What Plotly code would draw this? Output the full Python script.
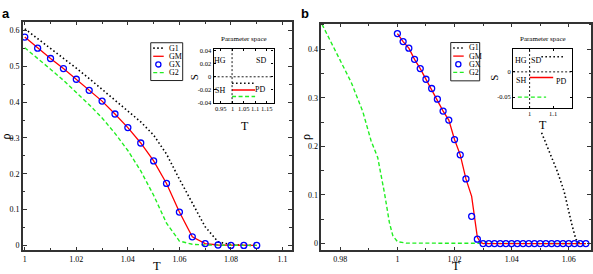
import plotly.graph_objects as go

W, H = 593, 274

# ---------------- Panel a data ----------------
T_a = [1.000, 1.005, 1.010, 1.015, 1.020, 1.025, 1.030, 1.035, 1.040, 1.045,
       1.050, 1.055, 1.060, 1.065, 1.070, 1.075, 1.080, 1.085, 1.090]
G1_a = [0.605, 0.578, 0.551, 0.523, 0.495, 0.466, 0.436, 0.406, 0.376, 0.345,
        0.308, 0.255, 0.185, 0.118, 0.052, 0.010, 0.002, 0.0, 0.0]
GM_a = [0.582, 0.551, 0.522, 0.494, 0.464, 0.433, 0.403, 0.367, 0.329, 0.286,
        0.236, 0.173, 0.093, 0.024, 0.005, 0.001, 0.0, 0.0, 0.0]
GX_a = [0.582, 0.551, 0.522, 0.494, 0.464, 0.433, 0.403, 0.367, 0.329, 0.286,
        0.236, 0.173, 0.093, 0.024, 0.005, 0.001, 0.0, 0.0, 0.0]
G2_a = [0.552, 0.523, 0.492, 0.461, 0.427, 0.393, 0.356, 0.313, 0.265, 0.208,
        0.140, 0.062, 0.012, 0.003, 0.001, 0.0, 0.0, 0.0, 0.0]

# ---------------- Panel b data ----------------
T_b_gx = [1.000, 1.002, 1.004, 1.006, 1.008, 1.010, 1.012, 1.014, 1.016, 1.018,
          1.020, 1.022, 1.024, 1.026, 1.028, 1.030, 1.032, 1.034, 1.036, 1.038,
          1.040, 1.042, 1.044, 1.046, 1.048, 1.050, 1.052, 1.054, 1.056, 1.058,
          1.060, 1.062, 1.064, 1.066]
GX_b = [0.432, 0.4155, 0.402, 0.379, 0.360, 0.338, 0.319, 0.297, 0.2725, 0.254,
        0.214, 0.1825, 0.133, 0.056, 0.009, 0.0, 0.0, 0.0, 0.0, 0.0,
        0.0, 0.0, 0.0, 0.0, 0.0, 0.0, 0.0, 0.0, 0.0, 0.0,
        0.0, 0.0, 0.0, 0.0]
T_b_gm = [1.000, 1.002, 1.004, 1.006, 1.008, 1.010, 1.012, 1.014, 1.016, 1.018,
          1.020, 1.022, 1.024, 1.026, 1.028, 1.029, 1.030, 1.066]
GM_b = [0.432, 0.4155, 0.402, 0.379, 0.360, 0.338, 0.319, 0.297, 0.2725, 0.254,
        0.214, 0.1825, 0.133, 0.097, 0.013, 0.003, 0.0, 0.0]
T_b_g1 = [1.0505, 1.0532, 1.0561, 1.0584, 1.0599, 1.0611, 1.0625, 1.0635, 1.0660]
G1_b = [0.228, 0.187, 0.147, 0.107, 0.066, 0.039, 0.009, 0.002, 0.0]
T_b_g2 = [0.9736, 0.9792, 0.9838, 0.9861, 0.9879, 0.9908, 0.9931, 0.9955,
          0.9972, 0.9984, 1.0000, 1.0030, 1.0660]
G2_b = [0.451, 0.385, 0.332, 0.298, 0.271, 0.211, 0.177, 0.103,
        0.043, 0.016, 0.004, 0.001, 0.0]

# ---------------- Inset (parameter space) data ----------------
ins_a_T = {"G1": [1.0, 1.1], "GM": [1.0, 1.1], "G2": [1.0, 1.1]}
ins_a_S = {"G1": [-0.01, -0.01], "GM": [-0.02, -0.02], "G2": [-0.03, -0.03]}
ins_b_T = {"G1": [1.05, 1.15], "GM": [1.0, 1.1], "G2": [0.95, 1.07]}
ins_b_S = {"G1": [0.03, 0.03], "GM": [-0.011, -0.011], "G2": [-0.05, -0.05]}

ins_a_xticks = [0.95, 1.0, 1.05, 1.1, 1.15]
ins_a_xtext = ["0.95", "1", "1.05", "1.1", "1.15"]
ins_a_yticks = [0.04, 0.02, 0.0, -0.02, -0.04]
ins_a_ytext = ["0.04", "0.02", "0", "-0.02", "-0.04"]
ins_b_xticks = [1.0, 1.1]
ins_b_xtext = ["1", "1.1"]
ins_b_yticks = [0.0, -0.05]
ins_b_ytext = ["0", "-0.05"]

series_names = ["G1", "GM", "GX", "G2"]

# ---------------- styles ----------------
BLACK = "black"
RED = "#ff0000"
BLUE = "#0000ff"
GREEN = "#22ee22"
DOT = "1.5px,2.5px"
DASH = "4px,2.5px"

styles = {
    "G1": dict(mode="lines", line=dict(color=BLACK, width=1.6, dash=DOT)),
    "GM": dict(mode="lines", line=dict(color=RED, width=1.3)),
    "GX": dict(mode="markers", marker=dict(symbol="circle-open", size=6, color=BLUE,
                                           line=dict(width=1.3, color=BLUE))),
    "G2": dict(mode="lines", line=dict(color=GREEN, width=1.4, dash=DASH)),
}


def px(x):
    return x / W


def py(y):
    return 1 - y / H


fig = go.Figure()

panel_a = {"G1": (T_a, G1_a), "GM": (T_a, GM_a), "G2": (T_a, G2_a), "GX": (T_a, GX_a)}
panel_b = {"G1": (T_b_g1, G1_b), "GM": (T_b_gm, GM_b), "G2": (T_b_g2, G2_b), "GX": (T_b_gx, GX_b)}

for name in ["G1", "GM", "G2", "GX"]:
    xs, ys = panel_a[name]
    fig.add_trace(go.Scatter(x=xs, y=ys, name=name, xaxis="x", yaxis="y",
                             showlegend=False, hoverinfo="skip", **styles[name]))
for name in ["G2", "G1", "GM", "GX"]:
    xs, ys = panel_b[name]
    fig.add_trace(go.Scatter(x=xs, y=ys, name=name, xaxis="x2", yaxis="y2",
                             showlegend=False, hoverinfo="skip", **styles[name]))

ins_styles = {
    "G1": dict(color=BLACK, width=1.5, dash=DOT),
    "GM": dict(color=RED, width=1.4),
    "G2": dict(color=GREEN, width=1.4, dash="4px,2.5px"),
}
for name in ["G1", "GM", "G2"]:
    fig.add_trace(go.Scatter(x=ins_a_T[name], y=ins_a_S[name], mode="lines",
                             line=ins_styles[name], xaxis="x3", yaxis="y3",
                             showlegend=False, hoverinfo="skip"))
    fig.add_trace(go.Scatter(x=ins_b_T[name], y=ins_b_S[name], mode="lines",
                             line=ins_styles[name], xaxis="x4", yaxis="y4",
                             showlegend=False, hoverinfo="skip"))

AXC = "#333333"
serif = "Liberation Serif"
common = dict(showline=True, linecolor=AXC, linewidth=1.5, mirror="allticks",
              ticks="inside", ticklen=4, tickwidth=1, tickcolor=AXC,
              showgrid=False, zeroline=False, tickangle=0,
              tickfont=dict(family=serif, size=8, color="black"))
minor_x = dict(dtick=0.01, ticks="inside", ticklen=2.5, tickwidth=1, tickcolor=AXC, showgrid=False)
minor_y = dict(dtick=0.05, ticks="inside", ticklen=2.5, tickwidth=1, tickcolor=AXC, showgrid=False)

inset_common = dict(showline=True, linecolor=BLACK, linewidth=1.2, mirror="allticks",
                    ticks="inside", ticklen=2, tickwidth=0.8, tickcolor=BLACK,
                    showgrid=False, zeroline=False, tickangle=0,
                    tickfont=dict(family=serif, size=6.5, color="black"))

fig.update_layout(
    width=W, height=H, autosize=False,
    margin=dict(l=0, r=0, t=0, b=0),
    paper_bgcolor="white", plot_bgcolor="white",
    showlegend=False,
    xaxis=dict(domain=[px(23), px(292)], range=[0.9993, 1.1035], dtick=0.02, tick0=1.0,
               anchor="y", minor=minor_x, **common),
    yaxis=dict(domain=[py(253), py(20)], range=[-0.014, 0.625], dtick=0.1, tick0=0,
               anchor="x", minor=minor_y, **common),
    xaxis2=dict(domain=[px(322), px(592)], range=[0.9734, 1.0678], dtick=0.02, tick0=1.0,
                anchor="y2", minor=minor_x, **common),
    yaxis2=dict(domain=[py(253), py(22)], range=[-0.014, 0.4525], dtick=0.1, tick0=0,
                anchor="x2", minor=minor_y, **common),
    xaxis3=dict(domain=[px(214), px(274)], range=[0.92, 1.18], tickvals=ins_a_xticks,
                showticklabels=False, anchor="y3", **inset_common),
    yaxis3=dict(domain=[py(103), py(48)], range=[-0.04, 0.042], tickvals=ins_a_yticks,
                ticktext=ins_a_ytext, anchor="x3", **inset_common),
    xaxis4=dict(domain=[px(514), px(573)], range=[0.93, 1.18], tickvals=ins_b_xticks,
                showticklabels=False, anchor="y4", **inset_common),
    yaxis4=dict(domain=[py(108), py(48)], range=[-0.0715, 0.045], tickvals=ins_b_yticks,
                ticktext=ins_b_ytext, anchor="x4", **inset_common),
)

shapes = []
# dashed guide lines in insets
for xa, ya in [("x3", "y3"), ("x4", "y4")]:
    shapes.append(dict(type="line", xref=xa, yref=ya + " domain", x0=1.0, x1=1.0, y0=0, y1=1,
                       line=dict(color=BLACK, width=0.9, dash="2px,2px")))
    shapes.append(dict(type="line", xref=xa + " domain", yref=ya, x0=0, x1=1, y0=0, y1=0,
                       line=dict(color=BLACK, width=0.9, dash="2px,2px")))

annotations = []


def add_text(text, x, y, size, family=serif, angle=0, bold=False, xanchor="center", color="black"):
    annotations.append(dict(text=("<b>%s</b>" % text) if bold else text,
                            x=px(x), y=py(y), xref="paper", yref="paper",
                            xanchor=xanchor, yanchor="middle", showarrow=False,
                            textangle=angle, font=dict(family=family, size=size, color=color)))


# inset x tick labels (placed as text so none is dropped for crowding)
for xa, vals, texts, ypix in [("x3", ins_a_xticks, ins_a_xtext, 108.5),
                              ("x4", ins_b_xticks, ins_b_xtext, 113.5)]:
    for v, t in zip(vals, texts):
        annotations.append(dict(text=t, x=v, y=py(ypix), xref=xa, yref="paper",
                                xanchor="center", yanchor="middle", showarrow=False,
                                font=dict(family=serif, size=6.5, color="black")))

# legends (drawn manually so the compact layout matches)
legend_boxes = [(151.0, 41.5, 183.0, 80.0), (451.5, 41.3, 480.5, 80.3)]
for (l, t, r, b) in legend_boxes:
    shapes.append(dict(type="rect", xref="paper", yref="paper", x0=px(l), x1=px(r),
                       y0=py(b), y1=py(t), line=dict(color="#222", width=1), fillcolor="white",
                       layer="above"))
    for i, name in enumerate(series_names):
        yy = t + 5.5 + i * 8.3
        if name == "GX":
            shapes.append(dict(type="circle", xref="paper", yref="paper",
                               x0=px(l + 5.0), x1=px(l + 10.2), y0=py(yy + 2.6), y1=py(yy - 2.6),
                               line=dict(color=BLUE, width=1.3), layer="above"))
        else:
            st = styles[name]["line"]
            shapes.append(dict(type="line", xref="paper", yref="paper",
                               x0=px(l + 2.5), x1=px(l + 13), y0=py(yy), y1=py(yy),
                               line=dict(color=st["color"], width=st["width"], dash=st.get("dash", "solid")),
                               layer="above"))
        add_text(name, l + 16.5, yy, 8, xanchor="left")

# panel letters
add_text("a", 6, 12, 13, family="Liberation Sans", bold=True)
add_text("b", 306, 12, 13, family="Liberation Sans", bold=True)
# axis titles
add_text("T", 157, 269, 12.5)
add_text("T", 457, 269, 12.5)
add_text("ρ", 6, 137, 12, angle=-90)
add_text("ρ", 306, 137, 12, angle=-90)
# insets
add_text("Parameter space", 244, 38, 7)
add_text("Parameter space", 544, 38, 7)
add_text("S", 194, 77, 11, angle=-90)
add_text("S", 494, 77, 11, angle=-90)
add_text("T", 245, 126, 12)
add_text("T", 544, 125, 12)
add_text("HG", 220, 60, 8)
add_text("SD", 261, 60, 8)
add_text("SH", 220, 90, 8)
add_text("PD", 260, 89.5, 8)
add_text("HG", 521.5, 60, 8)
add_text("SD", 537, 60, 8)
add_text("SH", 521.5, 80, 8)
add_text("PD", 561.5, 80.5, 8)

fig.update_layout(shapes=shapes, annotations=annotations)

fig.write_html("out.html",
               config={"displayModeBar": False},
               post_script="document.body.style.margin='0px';document.body.style.padding='0px';"
                           "document.body.style.overflow='hidden';")
